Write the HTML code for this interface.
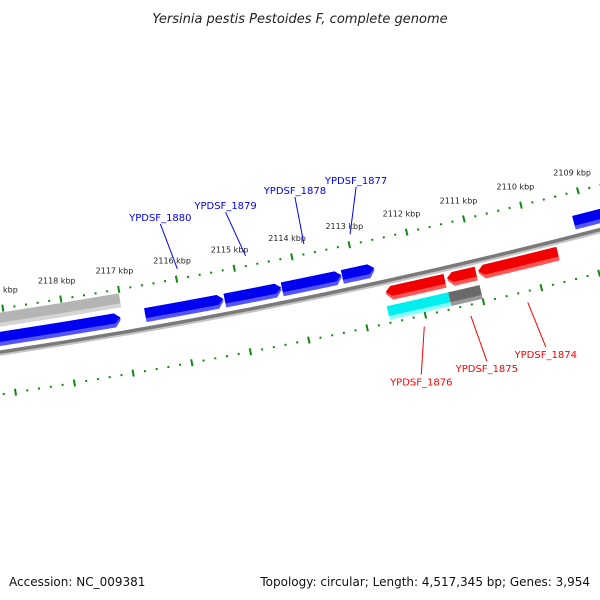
<!DOCTYPE html>
<html><head><meta charset="utf-8"><style>
html,body{margin:0;padding:0;background:#fff;width:600px;height:600px;overflow:hidden}
svg{display:block}
text{font-family:"DejaVu Sans","Liberation Sans",sans-serif}
</style></head><body>
<svg id="chart" width="600" height="600" viewBox="0 0 600 600">
<text x="300" y="23" text-anchor="middle" font-size="13" font-style="italic" fill="#222">Yersinia pestis Pestoides F, complete genome</text>
<g id="ticks"></g>
<g id="backbone"></g>
<g id="genes"></g>
<g id="labels"></g>
<text x="9" y="586" font-size="12" fill="#111">Accession: NC_009381</text>
<text x="590" y="586" font-size="12" fill="#111" text-anchor="end">Topology: circular; Length: 4,517,345 bp; Genes: 3,954</text>
</svg>
<script>
// gene data (kbp positions)
const geneStart = [2125.0, 2125.0, 2116.63, 2115.26, 2114.27, 2113.23, 2109.2, 2112.57, 2111.51, 2110.97, 2112.60, 2111.54];
const geneEnd   = [2117.01, 2117.05, 2115.28, 2114.28, 2113.24, 2112.67, 2104.0, 2111.55, 2111.01, 2109.59, 2111.54, 2111.00];
const geneRow   = ['f2','f1','f1','f1','f1','f1','f1','r1','r1','r1','r2','r2'];
const geneKind  = ['gray','blue','blue','blue','blue','blue','blue','red','red','red','cyan','dgray'];
const labelNames = ['YPDSF_1880','YPDSF_1879','YPDSF_1878','YPDSF_1877','YPDSF_1876','YPDSF_1875','YPDSF_1874'];
const labelGene  = [2,3,4,5,7,8,9];
const labelDx    = [-17,-20,-9,6,-3,16,18];
const tickStart = 2103.0, tickEnd = 2120.0;

const CX=-859, CY=-5384, R0=5800, K=0.0102, PMID=2114.0, PHI0=Math.atan2(0.9798,0.1999);
const rUp=R0-43, rLo=R0+42;
const rows={f2:[R0-39,R0-25],f1:[R0-20,R0-6],r1:[R0+6,R0+20],r2:[R0+25,R0+39]};
const colors={gray:['#b4b4b4','#d4d4d4',0],blue:['#0000f0','#5555ff',1],red:['#f00000','#ff5555',-1],cyan:['#00eeee','#88ffff',0],dgray:['#6a6a6a','#9a9a9a',0]};
const NS='http://www.w3.org/2000/svg';
function phi(p){return PHI0+(p-PMID)*K;}
function pt(p,r){const a=phi(p);return [CX+r*Math.cos(a),CY+r*Math.sin(a)];}
function f(v){return v[0].toFixed(2)+' '+v[1].toFixed(2);}
function arc(pa,pb,r){const s=phi(pb)>phi(pa)?1:0;return ' A '+r+' '+r+' 0 0 '+s+' '+f(pt(pb,r));}
function shapePath(p1,p2,rIn,rOut,dir){
  const h=Math.min(0.1,(p1-p2)*0.5), rm=(rIn+rOut)/2;
  if(dir===1) return 'M '+f(pt(p1,rIn))+arc(p1,p2+h,rIn)+' L '+f(pt(p2,rm))+' L '+f(pt(p2+h,rOut))+arc(p2+h,p1,rOut)+' Z';
  if(dir===-1) return 'M '+f(pt(p1-h,rIn))+arc(p1-h,p2,rIn)+' L '+f(pt(p2,rOut))+arc(p2,p1-h,rOut)+' L '+f(pt(p1,rm))+' Z';
  return 'M '+f(pt(p1,rIn))+arc(p1,p2,rIn)+' L '+f(pt(p2,rOut))+arc(p2,p1,rOut)+' Z';
}
function mk(tag,attrs,parent){const e=document.createElementNS(NS,tag);for(const k in attrs)e.setAttribute(k,attrs[k]);parent.appendChild(e);return e;}

// ticks
const tg=document.getElementById('ticks');
const nT=Math.round((tickEnd-tickStart)/0.2);
for(let i=0;i<=nT;i++){
  const p=tickStart+i*0.2, major=Math.abs(p-Math.round(p))<1e-6;
  const len=major?3.5:1;
  [rUp,rLo].forEach(function(r,j){
    const a=pt(p,r-len), b=pt(p,r+len);
    const l=mk('line',{x1:a[0],y1:a[1],x2:b[0],y2:b[1],stroke:'#118811','stroke-width':2},tg);
    
    
  });
  if(major){
    const c=pt(p,rUp-19);
    const t=mk('text',{x:c[0]-1,y:c[1]+3,'font-size':8,'text-anchor':'middle',fill:'#222'},tg);
    t.textContent=Math.round(p)+' kbp';
    
    
  }
}
// backbone
const bg=document.getElementById('backbone');
const b1=mk('path',{d:'M '+f(pt(2125,R0+2.5))+arc(2125,2103,R0+2.5),fill:'none',stroke:'#c4c4c4','stroke-width':2.5},bg);


const b2=mk('path',{d:'M '+f(pt(2125,R0))+arc(2125,2103,R0),fill:'none',stroke:'#7a7a7a','stroke-width':3.5},bg);


// genes
const gg=document.getElementById('genes');
for(let i=0;i<geneStart.length;i++){
  const rr=rows[geneRow[i]], c=colors[geneKind[i]];
  const g=mk('g',{},gg);
  
  
  mk('path',{d:shapePath(geneStart[i],geneEnd[i],rr[0],rr[1],c[2]),fill:c[1]},g);
  mk('path',{d:shapePath(geneStart[i],geneEnd[i],rr[0],rr[1]-4,c[2]),fill:c[0]},g);
}
// labels
const lg=document.getElementById('labels');
for(let j=0;j<labelNames.length;j++){
  const gi=labelGene[j], mid=(geneStart[gi]+geneEnd[gi])/2, up=geneRow[gi][0]==='f';
  const col=up?'#0000ff':'#ff0000';
  const base=pt(mid,up?R0-53:R0+53), dx=labelDx[j], dy=Math.sqrt(48*48-dx*dx)*(up?-1:1);
  const end=[base[0]+dx,base[1]+dy];
  const l=mk('line',{x1:base[0],y1:base[1],x2:end[0],y2:end[1],stroke:col,'stroke-width':1},lg);
  
  
  const t=mk('text',{x:end[0],y:up?end[1]-3:end[1]+11,'font-size':10,'text-anchor':'middle',fill:col},lg);
  t.textContent=labelNames[j];
  
  
}
</script>
</body></html>
